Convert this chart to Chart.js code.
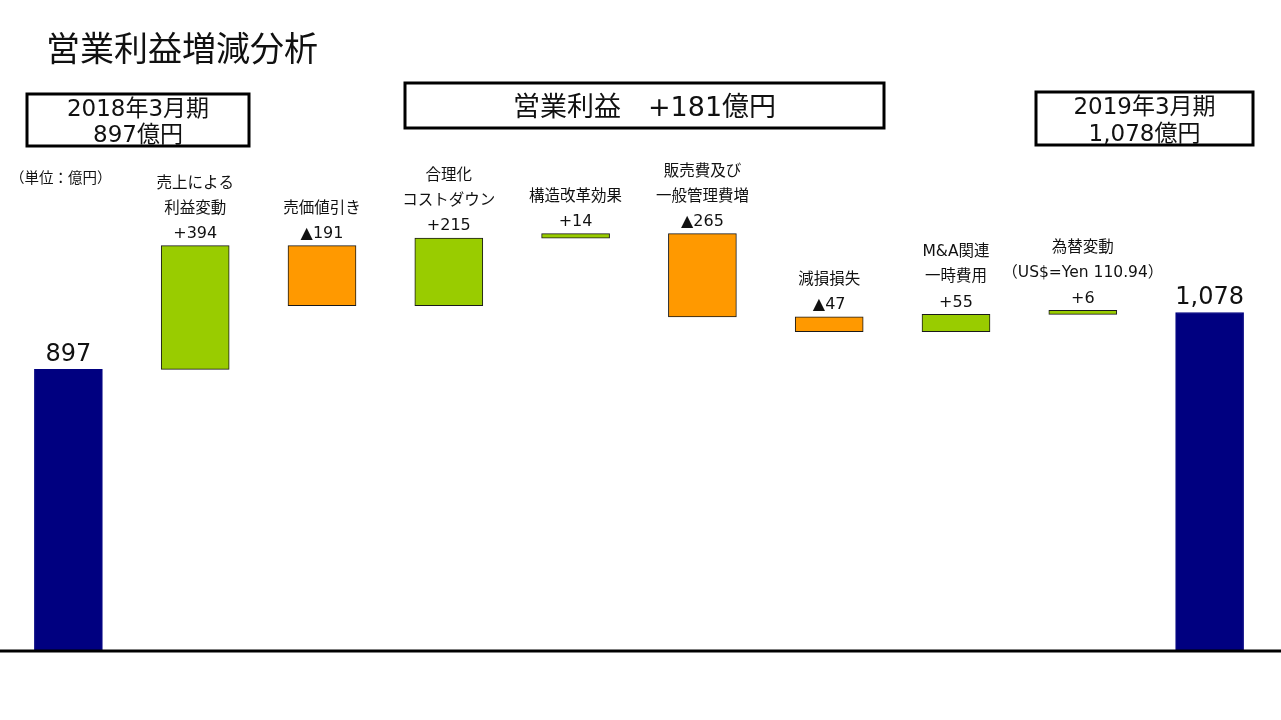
<!DOCTYPE html>
<html lang="ja">
<head>
<meta charset="utf-8">
<title>営業利益増減分析</title>
<script src="https://cdn.jsdelivr.net/npm/chart.js@4/dist/chart.umd.min.js"></script>
<style>
  html, body { margin: 0; padding: 0; background: #fff; overflow: hidden; }
  #wrap { width: 1281px; height: 720px; }
</style>
</head>
<body>
<div id="wrap"><canvas id="waterfall" width="1281" height="720"></canvas></div>
<script>
// Données du graphique
const categories = [
    ['2018年3月期', '897億円'],
    ['売上による', '利益変動'],
    ['売価値引き'],
    ['合理化', 'コストダウン'],
    ['構造改革効果'],
    ['販売費及び', '一般管理費増'],
    ['減損損失'],
    ['M&A関連', '一時費用'],
    ['為替変動', '（US$=Yen 110.94）'],
    ['2019年3月期', '1,078億円'],
];
const changes = [897, 394, -191, 215, 14, -265, -47, 55, 6, 1078];
const isTotal = [true, false, false, false, false, false, false, false, false, true];
const chartTitle = '営業利益増減分析';
const totalChange = '営業利益　+181億円';
const unitLabel = '（単位：億円）';

// Latin en DejaVu (chiffres larges), japonais en Noto CJK
const FONT = '"DejaVu Sans", "Noto Sans CJK JP", sans-serif';
const NAVY = '#000080';
const GREEN = '#99CC00';
const ORANGE = '#FF9900';

// Construction des barres flottantes [début, fin]
let running = 0;
const bars = changes.map((v, i) => {
    if (isTotal[i]) {
        running = v;
        return [0, v];
    }
    const start = running;
    running += v;
    return [start, running];
});

const colors = changes.map((v, i) => isTotal[i] ? NAVY : (v >= 0 ? GREEN : ORANGE));
const borders = changes.map((v, i) => isTotal[i] ? NAVY : '#1a1a1a');

const valueText = (v, i) => {
    if (isTotal[i]) return v.toLocaleString('en-US');
    return v >= 0 ? '+' + v : '▲' + Math.abs(v);
};

const drawBox = (ctx, x, y, w, h, lines, size) => {
    ctx.save();
    ctx.lineWidth = 3;
    ctx.strokeStyle = '#000';
    ctx.strokeRect(x, y, w, h);
    ctx.fillStyle = '#111';
    ctx.font = size + 'px ' + FONT;
    ctx.textAlign = 'center';
    ctx.textBaseline = 'middle';
    const lh = h / lines.length;
    lines.forEach((line, k) => {
        ctx.fillText(line, x + w / 2, y + lh * (k + 0.5) + 3);
    });
    ctx.restore();
};

// Plugin : étiquettes, cadres et ligne de base
const waterfallDecor = {
    id: 'waterfallDecor',
    afterDatasetsDraw(chart) {
        const ctx = chart.ctx;
        const yScale = chart.scales.y;
        const meta = chart.getDatasetMeta(0);

        // Ligne de base épaisse
        const y0 = yScale.getPixelForValue(0);
        ctx.save();
        ctx.strokeStyle = '#000';
        ctx.lineWidth = 3;
        ctx.beginPath();
        ctx.moveTo(0, y0);
        ctx.lineTo(chart.width, y0);
        ctx.stroke();
        ctx.restore();

        // Étiquettes au-dessus des barres
        ctx.save();
        ctx.fillStyle = '#111';
        ctx.textAlign = 'center';
        ctx.textBaseline = 'middle';
        meta.data.forEach((bar, i) => {
            const top = Math.min(bar.y, bar.base);
            if (isTotal[i]) {
                ctx.font = '24px ' + FONT;
                ctx.fillText(valueText(changes[i], i), bar.x, top - 15);
                return;
            }
            ctx.font = '16px ' + FONT;
            const vy = top - 12;
            ctx.fillText(valueText(changes[i], i), bar.x, vy);
            ctx.font = '15.5px ' + FONT;
            const lines = categories[i];
            lines.forEach((line, k) => {
                ctx.fillText(line, bar.x, vy - 25 * (lines.length - k));
            });
        });
        ctx.restore();

        // Titre et unité
        ctx.save();
        ctx.fillStyle = '#111';
        ctx.textBaseline = 'middle';
        ctx.font = '34px ' + FONT;
        ctx.fillText(chartTitle, 46, 52);
        ctx.font = '14.5px ' + FONT;
        ctx.fillText(unitLabel, 10, 179);
        ctx.restore();

        // Cadres
        drawBox(ctx, 27, 94, 222, 52, categories[0], 23);
        drawBox(ctx, 405, 83, 479, 45, [totalChange], 27);
        drawBox(ctx, 1036, 92, 217, 53, categories[9], 23);
    }
};

const ctx = document.getElementById('waterfall').getContext('2d');
const chart = new Chart(ctx, {
    type: 'bar',
    data: {
        labels: categories,
        datasets: [{
            data: bars,
            backgroundColor: colors,
            borderColor: borders,
            borderWidth: 1,
            borderSkipped: false,
            barThickness: 68,
            minBarLength: 4,
        }],
    },
    options: {
        responsive: false,
        animation: false,
        devicePixelRatio: 1,
        layout: {
            padding: { left: 5, right: 8, top: 23, bottom: 69 },
        },
        scales: {
            x: { display: false },
            y: { display: false, min: 0, max: 2000 },
        },
        plugins: {
            legend: { display: false },
            tooltip: { enabled: false },
        },
    },
    plugins: [waterfallDecor],
});
</script>
</body>
</html>
